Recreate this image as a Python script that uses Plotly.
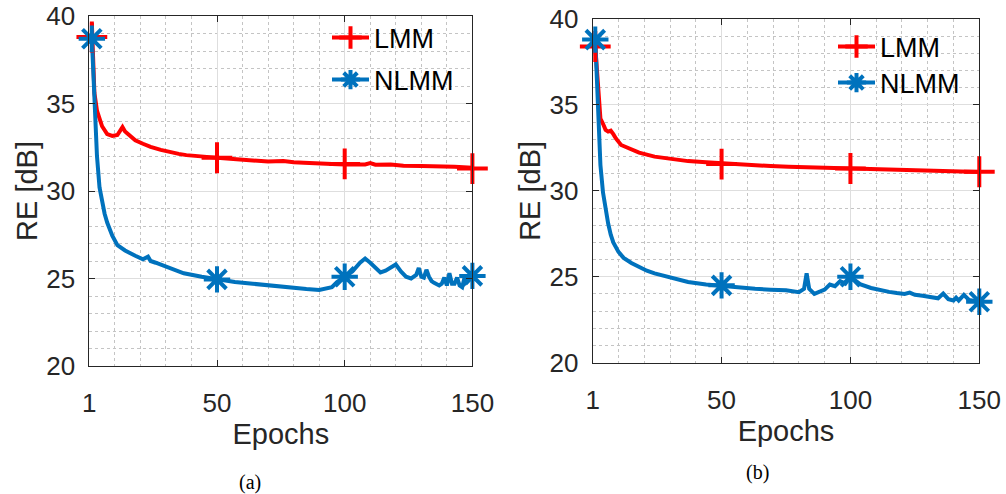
import plotly.graph_objects as go

# ---------------- data ----------------
# Panel (a)
a_lmm_x = [1, 2, 3, 5, 7, 9, 11, 12, 13, 14, 16, 18, 21, 24, 28, 31, 35, 38, 42, 46,
           50, 55, 60, 64, 70, 76, 80, 84, 90, 95, 100, 105, 108, 110, 112, 118, 123, 130, 136, 143, 150]
a_lmm_y = [39.6, 35.6, 34.6, 33.7, 33.25, 33.15, 33.2, 33.45, 33.65, 33.4, 33.15, 32.9, 32.7, 32.52, 32.35, 32.24, 32.12, 32.05, 31.98, 31.95,
           31.9, 31.84, 31.78, 31.73, 31.68, 31.72, 31.64, 31.62, 31.55, 31.54, 31.52, 31.5, 31.52, 31.6, 31.5, 31.52, 31.45, 31.43, 31.43, 31.38, 31.33]

a_nlmm_x = [1, 2, 3, 4, 5, 6, 7, 8, 9, 11, 14, 18, 21, 23, 24, 26, 31, 37, 44, 50,
            57, 64, 70, 75, 80, 85, 90, 93, 95, 97, 100, 103, 106, 108, 110, 112, 114, 116, 118, 120,
            122, 124, 126, 128, 129, 130, 131, 132, 133, 134, 135, 137, 138, 139, 140, 141, 142, 143, 144, 145,
            146, 147, 148, 150]
a_nlmm_y = [38.7, 35.0, 32.0, 30.2, 29.3, 28.7, 28.2, 27.8, 27.45, 26.9, 26.6, 26.3, 26.1, 26.25, 26.0, 25.9, 25.6, 25.3, 25.1, 24.95,
            24.8, 24.7, 24.6, 24.53, 24.45, 24.4, 24.35, 24.45, 24.5, 24.8, 25.1, 25.4, 25.9, 26.14, 25.9, 25.6, 25.35, 25.45, 25.6, 25.8,
            25.4, 25.1, 25.0, 25.2, 25.6, 25.1, 25.05, 25.5, 25.1, 24.85, 24.75, 24.6, 24.7, 25.05, 24.6, 25.3, 24.7, 24.7, 25.05, 24.6,
            24.5, 25.1, 24.8, 25.1]

# Panel (b)
b_lmm_x = [1, 2, 3, 4, 5, 6, 7, 8, 9, 11, 14, 18, 24, 30, 37, 44, 50,
           57, 63, 69, 76, 83, 90, 100, 105, 110, 115, 120, 125, 130, 135, 140, 145, 150]
b_lmm_y = [38.4, 36.0, 34.2, 33.9, 33.55, 33.45, 33.5, 33.3, 33.05, 32.67, 32.45, 32.22, 31.99, 31.85, 31.73, 31.66, 31.6,
           31.52, 31.47, 31.44, 31.4, 31.37, 31.34, 31.3, 31.27, 31.25, 31.22, 31.2, 31.17, 31.15, 31.14, 31.12, 31.1, 31.1]

b_nlmm_x = [1, 2, 3, 4, 5, 6, 7, 8, 10, 12, 15, 18, 21, 24, 30, 37, 44, 50, 57, 63,
            69, 75, 80, 82, 83, 84, 86, 88, 90, 92, 94, 96, 98, 100, 102, 104, 108, 112, 115, 118,
            121, 123, 125, 128, 131, 133, 134, 136, 138, 140, 141, 142, 144, 146, 148, 150]
b_nlmm_y = [38.8, 34.8, 31.5, 29.9, 28.9, 28.1, 27.45, 27.0, 26.45, 26.1, 25.8, 25.57, 25.35, 25.2, 24.95, 24.7, 24.55, 24.46, 24.36, 24.3,
            24.25, 24.22, 24.1, 24.3, 25.2, 24.3, 24.0, 24.15, 24.25, 24.55, 24.45, 24.75, 24.6, 25.0, 24.8, 24.55, 24.35, 24.2, 24.12, 24.05,
            24.0, 24.08, 23.95, 23.9, 23.82, 23.75, 23.75, 24.02, 23.7, 23.62, 23.78, 23.62, 23.95, 23.65, 23.6, 23.55]

# marker positions
marker_x = [1, 50, 100, 150]
a_lmm_mk = [38.8, 31.9, 31.55, 31.28]
a_nlmm_mk = [38.7, 24.95, 25.1, 25.15]
b_lmm_mk = [38.4, 31.56, 31.3, 31.11]
b_nlmm_mk = [38.8, 24.5, 25.0, 23.55]

x_tick_pos = [0, 50, 100, 150]
x_tick_text = ["1", "50", "100", "150"]
y_ticks = [20, 25, 30, 35, 40]
series_names = ["LMM", "NLMM"]
captions = ["(a)", "(b)"]

RED = "#FF0000"
BLUE = "#0072BD"
AXC = "#262626"
FONT = "Liberation Sans, Arial, sans-serif"
LW = 4

fig = go.Figure()

panels = [
    ("x", "y", a_lmm_x, a_lmm_y, a_nlmm_x, a_nlmm_y, a_lmm_mk, a_nlmm_mk, ("legend", "legend2")),
    ("x2", "y2", b_lmm_x, b_lmm_y, b_nlmm_x, b_nlmm_y, b_lmm_mk, b_nlmm_mk, ("legend3", "legend4")),
]

for xa, ya, lx, ly, nx, ny, lmk, nmk, legs in panels:
    # lines
    fig.add_trace(go.Scatter(x=lx, y=ly, xaxis=xa, yaxis=ya, mode="lines",
                             line=dict(color=RED, width=LW), showlegend=False, hoverinfo="skip"))
    fig.add_trace(go.Scatter(x=nx, y=ny, xaxis=xa, yaxis=ya, mode="lines",
                             line=dict(color=BLUE, width=LW), showlegend=False, hoverinfo="skip"))
    # markers
    fig.add_trace(go.Scatter(x=marker_x, y=lmk, xaxis=xa, yaxis=ya, mode="markers",
                             marker=dict(symbol="cross-thin", size=22, color=RED,
                                         line=dict(color=RED, width=LW)),
                             showlegend=False, hoverinfo="skip", cliponaxis=False))
    fig.add_trace(go.Scatter(x=marker_x, y=nmk, xaxis=xa, yaxis=ya, mode="markers",
                             marker=dict(symbol="asterisk", size=22, color=BLUE,
                                         line=dict(color=BLUE, width=LW)),
                             showlegend=False, hoverinfo="skip", cliponaxis=False))
    # legend entries
    fig.add_trace(go.Scatter(x=[None], y=[None], xaxis=xa, yaxis=ya, mode="lines+markers",
                             name=series_names[0], legend=legs[0],
                             line=dict(color=RED, width=LW),
                             marker=dict(symbol="cross-thin", size=22, color=RED,
                                         line=dict(color=RED, width=LW))))
    fig.add_trace(go.Scatter(x=[None], y=[None], xaxis=xa, yaxis=ya, mode="lines+markers",
                             name=series_names[1], legend=legs[1],
                             line=dict(color=BLUE, width=LW),
                             marker=dict(symbol="asterisk", size=22, color=BLUE,
                                         line=dict(color=BLUE, width=LW))))

W, H = 1006, 494

def xdom(a, b):
    return [a / W, b / W]

def ydom(top, bottom):
    return [1 - bottom / H, 1 - top / H]

common_x = dict(range=[0, 150], tickmode="array", tickvals=x_tick_pos, ticktext=x_tick_text,
                showline=True, linecolor=AXC, linewidth=1, mirror="ticks",
                ticks="inside", ticklen=6, tickcolor=AXC, tickwidth=1,
                showgrid=True, gridcolor="#dedede", gridwidth=1, zeroline=False,
                minor=dict(dtick=10, tick0=0, showgrid=True, gridcolor="#c4c4c4", griddash="dot", gridwidth=1),
                tickfont=dict(family=FONT, size=26, color=AXC), ticklabelstandoff=14,
                ticklabeloverflow="allow",
                title=dict(text="Epochs", font=dict(family=FONT, size=29, color=AXC), standoff=1),
                automargin=False, fixedrange=True)
common_y = dict(range=[20, 40], tickmode="array", tickvals=y_ticks,
                showline=True, linecolor=AXC, linewidth=1, mirror="ticks",
                ticks="inside", ticklen=6, tickcolor=AXC, tickwidth=1,
                showgrid=True, gridcolor="#dedede", gridwidth=1, zeroline=False,
                minor=dict(dtick=1, tick0=20, showgrid=True, gridcolor="#c4c4c4", griddash="dot", gridwidth=1),
                tickfont=dict(family=FONT, size=26, color=AXC), ticklabelstandoff=8,
                ticklabeloverflow="allow",
                title=dict(text="RE [dB]", font=dict(family=FONT, size=29, color=AXC), standoff=0),
                automargin=False, fixedrange=True)

leg_common = dict(xanchor="left", yanchor="middle", bgcolor="rgba(0,0,0,0)", borderwidth=0,
                  font=dict(family=FONT, size=27, color="#000000"), itemwidth=37,
                  itemclick=False, itemdoubleclick=False)

fig.update_layout(
    width=W, height=H,
    margin=dict(l=0, r=0, t=0, b=0),
    paper_bgcolor="white", plot_bgcolor="white",
    xaxis=dict(common_x, domain=xdom(89.3, 472.4), anchor="y"),
    yaxis=dict(common_y, domain=ydom(16, 366), anchor="x"),
    xaxis2=dict(common_x, domain=xdom(592.7, 979.3), anchor="y2"),
    yaxis2=dict(common_y, domain=ydom(19, 362.7), anchor="x2"),
    legend=dict(leg_common, x=327 / W, y=1 - 38 / H),
    legend2=dict(leg_common, x=327 / W, y=1 - 80 / H),
    legend3=dict(leg_common, x=833 / W, y=1 - 47 / H),
    legend4=dict(leg_common, x=833 / W, y=1 - 83 / H),
    annotations=[
        dict(text=captions[0], x=250 / W, y=1 - 482 / H, xref="paper", yref="paper",
             showarrow=False, xanchor="center", yanchor="middle",
             font=dict(family="Liberation Serif, Times New Roman, serif", size=20, color="#000000")),
        dict(text=captions[1], x=757 / W, y=1 - 472 / H, xref="paper", yref="paper",
             showarrow=False, xanchor="center", yanchor="middle",
             font=dict(family="Liberation Serif, Times New Roman, serif", size=20, color="#000000")),
    ],
)

fig.write_html("out.html", config=dict(displayModeBar=False),
               post_script="document.body.style.margin='0';document.body.style.overflow='hidden';")
